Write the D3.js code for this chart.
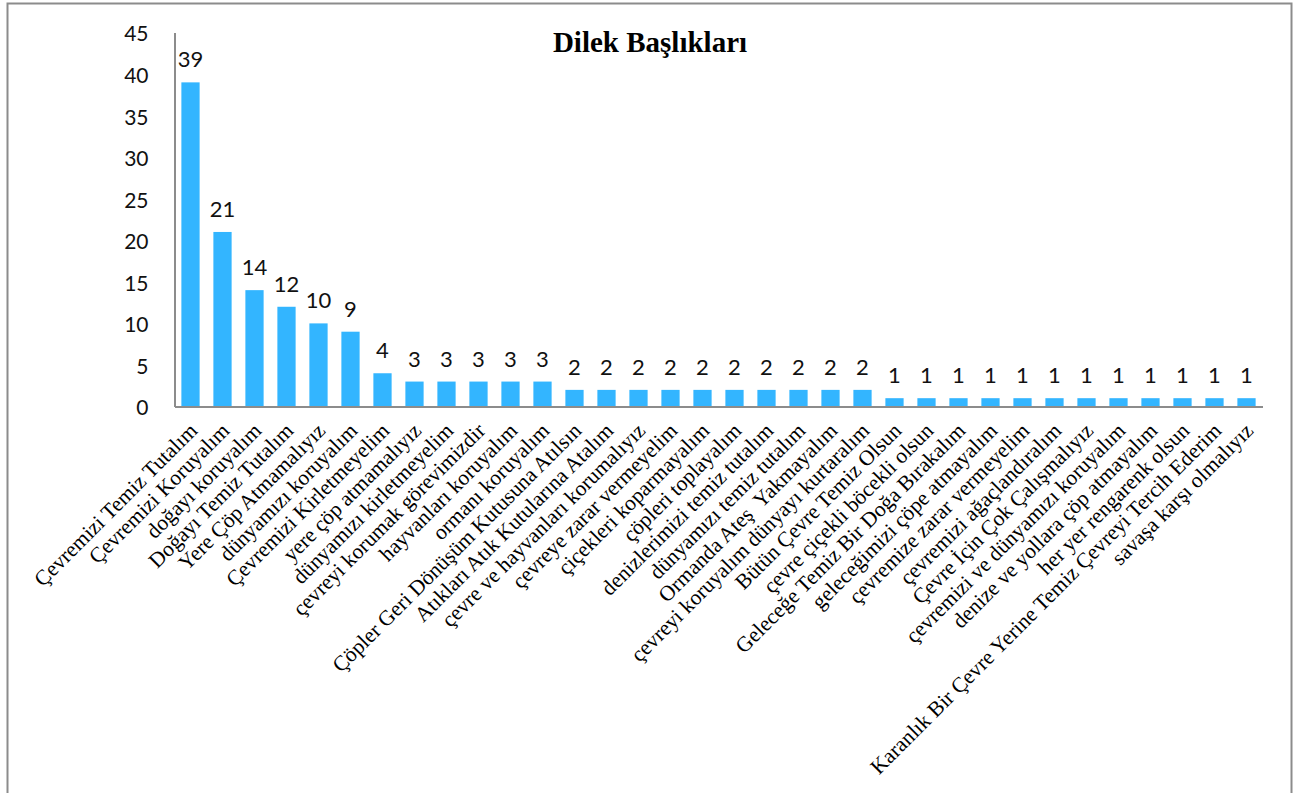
<!DOCTYPE html>
<html>
<head>
<meta charset="utf-8">
<script src="https://cdn.jsdelivr.net/npm/d3@7"></script>
<style>
  html, body { margin: 0; padding: 0; background: #fff; }
  svg { display: block; }
</style>
</head>
<body>
<div id="container"></div>
<script>
const width = 1293, height = 793;

// --- Data ---
const categories = [
  "Çevremizi Temiz Tutalım", "Çevremizi Koruyalım", "doğayı koruyalım",
  "Doğayı Temiz Tutalım", "Yere Çöp Atmamalıyız", "dünyamızı koruyalım",
  "Çevremizi Kirletmeyelim", "yere çöp atmamalıyız", "dünyamızı kirletmeyelim",
  "çevreyi korumak görevimizdir", "hayvanları koruyalım", "ormanı koruyalım",
  "Çöpler Geri Dönüşüm Kutusuna Atılsın", "Atıkları Atık Kutularına Atalım",
  "çevre ve hayvanları korumalıyız", "çevreye zarar vermeyelim",
  "çiçekleri koparmayalım", "çöpleri toplayalım", "denizlerimizi temiz tutalım",
  "dünyamızı temiz tutalım", "Ormanda Ateş  Yakmayalım",
  "çevreyi koruyalım dünyayı kurtaralım", "Bütün Çevre Temiz Olsun",
  "çevre çiçekli böcekli olsun", "Geleceğe Temiz Bir Doğa Bırakalım",
  "geleceğimizi çöpe atmayalım", "çevremize zarar vermeyelim",
  "çevremizi ağaçlandıralım", "Çevre İçin Çok Çalışmalıyız",
  "çevremizi ve dünyamızı koruyalım", "denize ve yollara çöp atmayalım",
  "her yer rengarenk olsun",
  "Karanlık Bir Çevre Yerine Temiz Çevreyi Tercih Ederim",
  "savaşa karşı olmalıyız"
];
const values = [39, 21, 14, 12, 10, 9, 4, 3, 3, 3, 3, 3, 2, 2, 2, 2, 2, 2, 2, 2, 2, 2,
  1, 1, 1, 1, 1, 1, 1, 1, 1, 1, 1, 1];
const yTicks = [0, 5, 10, 15, 20, 25, 30, 35, 40, 45];
const title = "Dilek Başlıkları";

const data = categories.map((c, i) => ({ cat: c, val: values[i] }));

// --- Layout ---
const plot = { left: 174.5, right: 1262.5, top: 32.5, bottom: 406.5 };
const numFont = "Lato, 'Open Sans', sans-serif";
const serif = "'Liberation Serif', 'Times New Roman', serif";

const svg = d3.select("#container").append("svg")
  .attr("width", width).attr("height", height);

// chart frame
svg.append("rect")
  .attr("x", 7.5).attr("y", 3.5)
  .attr("width", 1284).attr("height", 820)
  .attr("fill", "#fff")
  .attr("stroke", "#8c8c8c").attr("stroke-width", 2);

const x = d3.scaleBand().domain(categories)
  .range([plot.left, plot.right]).paddingInner(0.43).paddingOuter(0.215);
const y = d3.scaleLinear().domain([0, 45]).range([plot.bottom, plot.top]);

// --- Bars ---
svg.selectAll(".bar").data(data).join("rect")
  .attr("class", "bar")
  .attr("x", (d) => x(d.cat))
  .attr("y", (d) => y(d.val))
  .attr("width", x.bandwidth())
  .attr("height", (d) => y(0) - y(d.val))
  .attr("fill", "#33b5ff");

// --- Data labels ---
svg.selectAll(".vlab").data(data).join("text")
  .attr("class", "vlab")
  .attr("x", (d) => x(d.cat) + x.bandwidth() / 2)
  .attr("y", (d) => y(d.val) - 15)
  .attr("text-anchor", "middle")
  .attr("fill", "#111")
  .style("font-family", numFont)
  .style("font-size", "22px")
  .text((d) => d.val);

// --- Y axis ---
const yAxis = svg.append("g")
  .attr("transform", `translate(${plot.left},0)`)
  .call(d3.axisLeft(y).tickValues(yTicks).tickSize(0).tickPadding(26));
yAxis.select(".domain").attr("stroke", "#8c8c8c").attr("stroke-width", 2);
yAxis.selectAll("text")
  .attr("fill", "#111")
  .attr("dy", "0.4em")
  .style("font-family", numFont)
  .style("font-size", "21px");

// --- X axis ---
const xAxis = svg.append("g")
  .attr("transform", `translate(0,${plot.bottom})`)
  .call(d3.axisBottom(x).tickSize(0).tickFormat(""));
xAxis.select(".domain").attr("stroke", "#8c8c8c").attr("stroke-width", 2);

// rotated category labels
svg.selectAll(".clab").data(data).join("text")
  .attr("class", "clab")
  .attr("transform", (d) => `translate(${x(d.cat) + x.bandwidth() / 2 + 8},432) rotate(-45)`)
  .attr("text-anchor", "end")
  .attr("fill", "#000")
  .style("font-family", serif)
  .style("font-size", "21.5px")
  .style("white-space", "pre")
  .text((d) => d.cat);

// --- Title ---
svg.append("text")
  .attr("x", 650).attr("y", 52)
  .attr("text-anchor", "middle")
  .attr("fill", "#000")
  .style("font-family", serif)
  .style("font-size", "29px")
  .style("font-weight", "700")
  .text(title);
</script>
</body>
</html>
